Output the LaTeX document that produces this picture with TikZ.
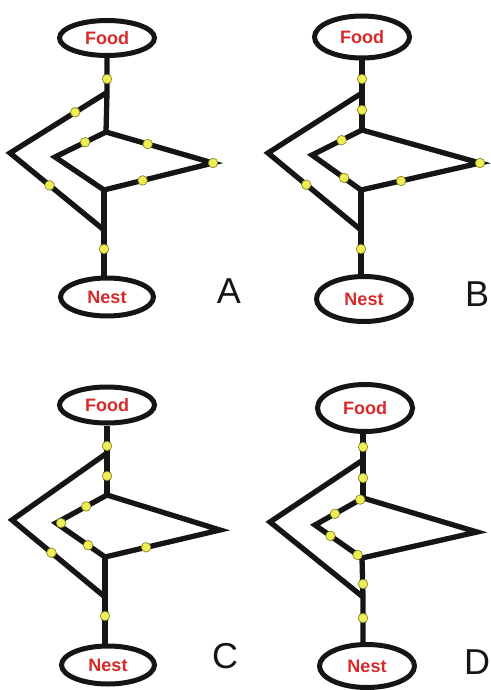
\documentclass[tikz,border=0pt]{standalone}
\usepackage{fontspec}
\setmainfont{Liberation Sans}
\usetikzlibrary{calc,shapes.geometric}
\definecolor{trail}{HTML}{151515}
\definecolor{antred}{HTML}{D62A2A}
\definecolor{antdot}{HTML}{F0EE55}
\definecolor{antdotline}{HTML}{7A7A20}
\tikzset{
  place/.style={draw=trail, line width=5pt, ellipse, inner sep=0pt,
    font=\fontsize{18}{18}\selectfont\bfseries, text=antred},
  trailline/.style={draw=trail, line width=5.3pt, line join=miter},
  ant/.style={circle, fill=antdot, draw=antdotline, line width=0.6pt,
    minimum size=9.6pt, inner sep=0pt},
  panellabel/.style={font=\fontsize{36}{38}\selectfont, text=trail}
}
\begin{document}
\begin{tikzpicture}[x=1pt,y=-1pt]
\useasboundingbox (0,0) rectangle (490,690);

% ---------- Panel A ----------
\node[place, minimum width=95pt, minimum height=35pt] (aF) at (107,38) {Food};
\node[place, minimum width=93pt, minimum height=38pt] (aN) at (107,297) {Nest};
\coordinate (aT) at (106,93);
\coordinate (aM) at (106,132);
\coordinate (aL) at (10,153);
\coordinate (aB) at (104,230);
\coordinate (aI) at (55,157);
\coordinate (aJ) at (104,190);
\coordinate (aR) at (213,163);
\draw[trailline] (aF) -- (aF |- aT) -- (aM);
\draw[trailline] (aT) -- (aL) -- (aB);
\draw[trailline] (aM) -- (aI) -- (aJ);
\draw[trailline] (aM) -- (aR) -- (aJ);
\draw[trailline] (aJ) -- (aB) -- (aB |- aN.north);
\node[ant] (a1) at ($(aF |- aT)!(106,79)!(aF.south)$) {};
\node[ant] (a2) at ($(aT)!(75,112)!(aL)$) {};
\node[ant] (a3) at ($(aM)!(85,142)!(aI)$) {};
\node[ant] (a4) at ($(aM)!(148,143)!(aR)$) {};
\node[ant] (a5) at (aR) {};
\node[ant] (a6) at ($(aR)!(143,182)!(aJ)$) {};
\node[ant] (a7) at ($(aL)!(49,186)!(aB)$) {};
\node[ant] (a8) at (104,249) {};
\node[panellabel] (la) at (229,291) {A};

% ---------- Panel B ----------
\node[place, minimum width=95pt, minimum height=42pt] (bF) at (362,37) {Food};
\node[place, minimum width=95pt, minimum height=45pt] (bN) at (364,299) {Nest};
\coordinate (bT) at (362,93);
\coordinate (bM) at (362,130);
\coordinate (bL) at (268,153);
\coordinate (bB) at (361,230);
\coordinate (bI) at (312,155);
\coordinate (bJ) at (361,190);
\coordinate (bR) at (480,163);
\draw[trailline] (bF) -- (bF |- bT) -- (bM);
\draw[trailline] (bT) -- (bL) -- (bB);
\draw[trailline] (bM) -- (bI) -- (bJ);
\draw[trailline] (bM) -- (bR) -- (bJ);
\draw[trailline] (bJ) -- (bB) -- (bB |- bN.north);
\node[ant] (b1) at (362,79) {};
\node[ant] (b2) at (362,110) {};
\node[ant] (b3) at ($(bM)!(342,141)!(bI)$) {};
\node[ant] (b4) at (bR) {};
\node[ant] (b5) at ($(bI)!(344,178)!(bJ)$) {};
\node[ant] (b6) at ($(bR)!(401,181)!(bJ)$) {};
\node[ant] (b7) at ($(bL)!(306,185)!(bB)$) {};
\node[ant] (b8) at (361,249) {};
\node[panellabel] (lb) at (477,294) {B};

% ---------- Panel C ----------
\node[place, minimum width=95pt, minimum height=36pt] (cF) at (107,405) {Food};
\node[place, minimum width=93pt, minimum height=38pt] (cN) at (108,665) {Nest};
\coordinate (cT) at (107,453);
\coordinate (cM) at (107,495);
\coordinate (cL) at (12,520);
\coordinate (cB) at (105,597);
\coordinate (cI) at (56,523);
\coordinate (cJ) at (105,557);
\coordinate (cR) at (220,530);
\draw[trailline] (cF) -- (cF |- cT) -- (cM);
\draw[trailline] (cT) -- (cL) -- (cB);
\draw[trailline] (cM) -- (cI) -- (cJ);
\draw[trailline] (cM) -- (cR) -- (cJ);
\draw[trailline] (cJ) -- (cB) -- (cB |- cN.north);
\node[ant] (c1) at (107,446) {};
\node[ant] (c2) at (107,476) {};
\node[ant] (c3) at ($(cM)!(87,508)!(cI)$) {};
\node[ant] (c4) at (61,523) {};
\node[ant] (c5) at ($(cI)!(89,544)!(cJ)$) {};
\node[ant] (c6) at ($(cR)!(146,547)!(cJ)$) {};
\node[ant] (c7) at ($(cL)!(52,552)!(cB)$) {};
\node[ant] (c8) at (105,616) {};
\node[panellabel] (lc) at (225,656) {C};

% ---------- Panel D ----------
\node[place, minimum width=95pt, minimum height=47pt] (dF) at (365,408) {Food};
\node[place, minimum width=95pt, minimum height=43pt] (dN) at (367,666) {Nest};
\coordinate (dT) at (363,460);
\coordinate (dM) at (363,498);
\coordinate (dL) at (270,522);
\coordinate (dB) at (363,597);
\coordinate (dI) at (315,525);
\coordinate (dJ) at (362,558);
\coordinate (dR) at (477,532);
\draw[trailline] (dF.south -| dT) -- (dT) -- (dM);
\draw[trailline] (dT) -- (dL) -- (dB);
\draw[trailline] (dM) -- (dI) -- (dJ);
\draw[trailline] (dM) -- (dR) -- (dJ);
\draw[trailline] (dJ) -- (dB) -- (dB |- dN.north);
\node[ant] (d1) at (363,447) {};
\node[ant] (d2) at (363,478) {};
\node[ant] (d3) at ($(dM)!(361,501)!(dI)$) {};
\node[ant] (d4) at ($(dM)!(335,514)!(dI)$) {};
\node[ant] (d5) at ($(dI)!(331,535)!(dJ)$) {};
\node[ant] (d6) at ($(dI)!(359,553)!(dJ)$) {};
\node[ant] (d7) at (363,584) {};
\node[ant] (d8) at (363,618) {};
\node[panellabel] (ld) at (477,662) {D};
\end{tikzpicture}
\end{document}
